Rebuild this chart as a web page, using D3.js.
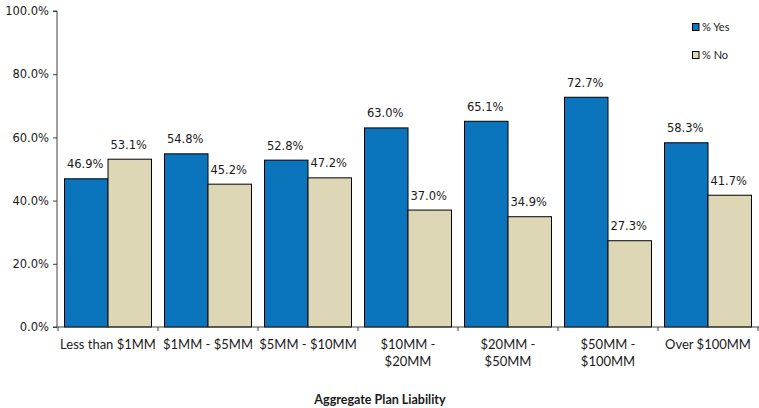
<!DOCTYPE html>
<html>
<head>
<meta charset="utf-8">
<script src="https://cdn.jsdelivr.net/npm/d3@7"></script>
<style>
  html, body { margin: 0; padding: 0; background: #fff; }
  svg { display: block; }
</style>
</head>
<body>
<svg id="chart" width="759" height="408"></svg>
<script>
// Survey responses by aggregate plan liability
const categories = [
  ["Less than $1MM"],
  ["$1MM - $5MM"],
  ["$5MM - $10MM"],
  ["$10MM -", "$20MM"],
  ["$20MM -", "$50MM"],
  ["$50MM -", "$100MM"],
  ["Over $100MM"]
];
const yesValues = [46.9, 54.8, 52.8, 63.0, 65.1, 72.7, 58.3];
const noValues  = [53.1, 45.2, 47.2, 37.0, 34.9, 27.3, 41.7];
const seriesNames = ["% Yes", "% No"];
const yTicks = [0, 20, 40, 60, 80, 100];

const colors = ["#0A74BD", "#DDD7B5"];

const svg = d3.select("#chart");
const margin = { left: 57, right: 0, top: 11, bottom: 81 };
const width = 759, height = 408;
const plotW = width - margin.left - margin.right;
const plotH = height - margin.top - margin.bottom;

const g = svg.append("g").attr("transform", `translate(${margin.left},${margin.top})`);

const keys = categories.map((c, i) => i);
const x = d3.scaleBand().domain(keys).range([0, plotW]).paddingInner(0.13).paddingOuter(0.075);
const xSub = d3.scaleBand().domain([0, 1]).range([0, x.bandwidth()]);
const y = d3.scaleLinear().domain([0, 100]).range([plotH, 0]);

const rows = keys.map(i => ({ i, vals: [yesValues[i], noValues[i]] }));

// Bars
const groups = g.selectAll("g.cat").data(rows).join("g")
  .attr("class", "cat")
  .attr("transform", d => `translate(${x(d.i)},0)`);

groups.selectAll("rect").data(d => d.vals.map((v, s) => ({ v, s }))).join("rect")
  .attr("x", d => xSub(d.s))
  .attr("width", xSub.bandwidth())
  .attr("y", d => y(d.v))
  .attr("height", d => y(0) - y(d.v))
  .attr("fill", d => colors[d.s])
  .attr("stroke", "#000")
  .attr("stroke-width", 1);

// Value labels
groups.selectAll("text.val").data(d => d.vals.map((v, s) => ({ v, s }))).join("text")
  .attr("class", "val")
  .attr("x", d => xSub(d.s) + xSub.bandwidth() / 2 - 1)
  .attr("y", d => y(d.v) - 10.5)
  .attr("text-anchor", "middle")
  .attr("font-family", "DejaVu Sans, Verdana, sans-serif")
  .attr("font-size", "11.5px")
  .attr("fill", "#1a1a1a")
  .text(d => d.v.toFixed(1) + "%");

// Y axis
const yAxis = g.append("g")
  .call(d3.axisLeft(y).tickValues(yTicks).tickSize(4).tickPadding(4).tickFormat(d => d.toFixed(1) + "%"));
yAxis.select(".domain").attr("stroke", "#404040").attr("d", `M-4,${plotH}H0V0H-4`);
yAxis.selectAll(".tick line").attr("stroke", "#404040");
yAxis.selectAll(".tick text")
  .attr("font-family", "DejaVu Sans, Verdana, sans-serif")
  .attr("font-size", "11.5px")
  .attr("fill", "#1a1a1a");

// X axis with ticks at category boundaries
const xAxisG = g.append("g").attr("transform", `translate(0,${plotH})`);
xAxisG.append("line")
  .attr("x1", 0).attr("x2", plotW)
  .attr("y1", 0).attr("y2", 0)
  .attr("stroke", "#404040");
const step = x.step();
const boundaries = d3.range(categories.length + 1).map(i => x(0) - x.paddingInner() * step / 2 + i * step);
xAxisG.selectAll("line.tick").data(boundaries).join("line")
  .attr("class", "tick")
  .attr("x1", d => d).attr("x2", d => d)
  .attr("y1", 0).attr("y2", 4)
  .attr("stroke", "#404040");

const xl = xAxisG.selectAll("text.cat").data(rows).join("text")
  .attr("class", "cat")
  .attr("x", d => x(d.i) + x.bandwidth() / 2)
  .attr("y", 22)
  .attr("text-anchor", "middle")
  .attr("font-family", "Lato, Carlito, Calibri, sans-serif")
  .attr("font-size", "13px")
  .attr("fill", "#1a1a1a");
xl.selectAll("tspan").data(d => categories[d.i].map((t, k) => ({ t, k }))).join("tspan")
  .attr("x", function () { return d3.select(this.parentNode).attr("x"); })
  .attr("dy", d => d.k === 0 ? 0 : 17)
  .text(d => d.t);

// Axis title
svg.append("text")
  .attr("x", 380)
  .attr("y", 404)
  .attr("text-anchor", "middle")
  .attr("font-family", "Lato, Carlito, Calibri, sans-serif")
  .attr("font-weight", "bold")
  .attr("font-size", "12.5px")
  .attr("fill", "#1a1a1a")
  .text("Aggregate Plan Liability");

// Legend
const legend = svg.append("g").attr("transform", "translate(692,23)");
seriesNames.forEach((name, s) => {
  const item = legend.append("g").attr("transform", `translate(0,${s * 28})`);
  item.append("rect")
    .attr("x", 0.5).attr("y", 0.5)
    .attr("width", 6.5).attr("height", 7)
    .attr("fill", colors[s])
    .attr("stroke", "#000");
  item.append("text")
    .attr("x", 10).attr("y", 8)
    .attr("font-family", "Lato, Carlito, Calibri, sans-serif")
    .attr("font-size", "11px")
    .attr("fill", "#1a1a1a")
    .text(name);
});
</script>
</body>
</html>
